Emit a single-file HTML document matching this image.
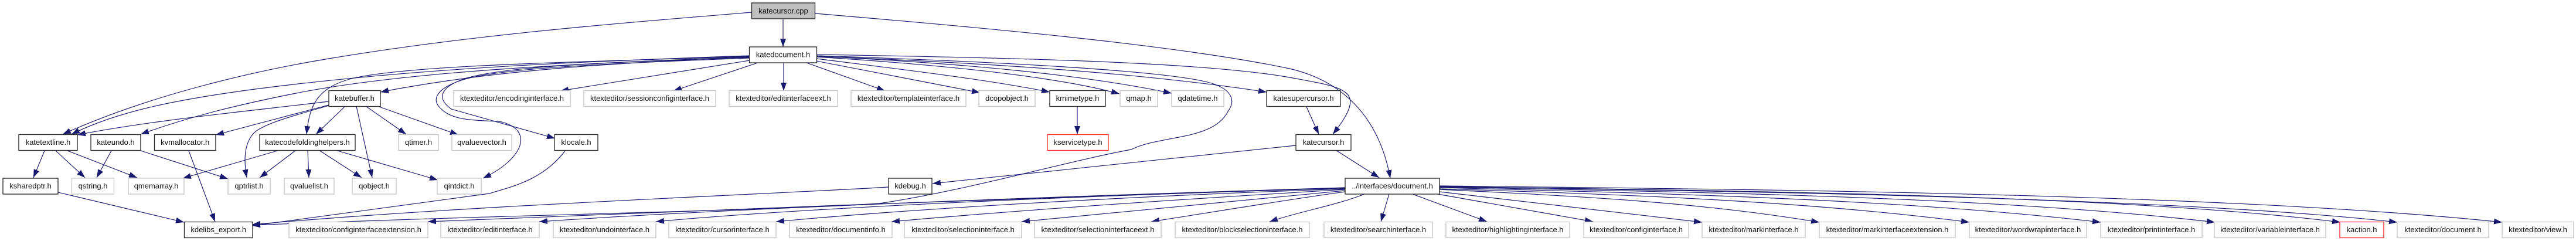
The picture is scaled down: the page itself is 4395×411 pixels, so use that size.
<!DOCTYPE html>
<html><head><meta charset="utf-8"><style>
html,body{margin:0;padding:0;background:#fff;width:4395px;height:411px;overflow:hidden}
svg{display:block}
text{font-family:"Liberation Sans",sans-serif;font-size:13px;fill:#111;text-anchor:middle}
.e path{fill:none;stroke:#191970;stroke-width:1.15;marker-end:url(#a)}
rect{fill:#fff;stroke-width:1.3}
.b rect{stroke:#222}
.g rect{stroke:#c4c4c4}
.r rect{stroke:#f22}
</style></head><body>
<svg width="4395" height="411" viewBox="0 0 4395 411" xmlns="http://www.w3.org/2000/svg">
<defs><marker id="a" markerUnits="userSpaceOnUse" markerWidth="15" markerHeight="11" refX="14" refY="5" orient="auto"><path d="M0 0L14 5L0 10Z" fill="#191970"/></marker></defs>
<g class="e">
<path d="M1336 33L1336 80"/>
<path d="M1282 21C1050 40 800 60 561 100C440 120 260 160 107 229"/>
<path d="M1278 95C1000 105 720 115 435 152C300 170 200 190 122 229"/>
<path d="M1278 97C1000 108 700 120 500 160C400 180 320 200 240 229"/>
<path d="M561 173C420 190 260 205 132 230"/>
<path d="M561 179L368 230"/>
<path d="M561 180C510 195 450 210 433 227C418 243 415 270 421 303"/>
<path d="M1278 96C1000 106 700 110 600 134C540 150 528 180 523 229"/>
<path d="M1278 98C1050 106 860 112 790 135C750 150 745 168 770 186L947 236"/>
<path d="M1278 99C1050 108 860 115 790 136C745 150 735 170 752 185C775 210 830 204 856 208C910 222 895 270 824 304"/>
<path d="M1279 103L956 155"/>
<path d="M1278 97C1050 108 850 118 649 157"/>
<path d="M1293 107L1149 155"/>
<path d="M1337 107L1337 155"/>
<path d="M1376 107L1510 155"/>
<path d="M1393 104L1672 158"/>
<path d="M1393 100C1550 120 1680 135 1791 157"/>
<path d="M1393 97C1600 110 1800 130 1910 160"/>
<path d="M1393 96C1650 108 1850 128 1999 159"/>
<path d="M1393 96C1700 108 1950 125 2161 157"/>
<path d="M1393 95C1700 105 1980 120 2060 140C2100 150 2110 170 2095 190C2070 240 1980 230 1930 255C1820 275 1650 325 1500 347C1300 360 900 365 430 384"/>
<path d="M1393 93C1700 98 2050 105 2200 132C2270 145 2310 150 2303 180C2300 195 2285 215 2274 229"/>
<path d="M1391 23C1650 45 2000 75 2200 117C2300 140 2355 210 2372 304"/>
<path d="M2229 182L2250 229"/>
<path d="M2279 256L2353 303"/>
<path d="M2211 248L1591 313"/>
<path d="M1516 319C1300 332 800 350 430 383"/>
<path d="M965 256C925 310 865 320 835 330L430 385"/>
<path d="M99 328L314 379"/>
<path d="M322 257L367 378"/>
<path d="M76 257L57 303"/>
<path d="M95 257L145 303"/>
<path d="M115 257L234 303"/>
<path d="M190 257L165 303"/>
<path d="M240 257L389 305"/>
<path d="M477 256L312 304"/>
<path d="M505 256L443 303"/>
<path d="M525 256L527 303"/>
<path d="M544 256L617 303"/>
<path d="M572 256L747 307"/>
<path d="M589 181L539 229"/>
<path d="M608 181L635 303"/>
<path d="M624 181L693 229"/>
<path d="M644 181L782 230"/>
<path d="M1838 182L1838 229"/>
<path d="M2295 320C1900 332 1200 358 730 378"/>
<path d="M2295 320C1900 332 1300 352 920 378"/>
<path d="M2295 321C1900 332 1400 352 1119 378"/>
<path d="M2295 322C2000 332 1600 352 1324 378"/>
<path d="M2295 323C2100 335 1800 353 1521 378"/>
<path d="M2295 325C2150 340 1950 357 1743 378"/>
<path d="M2295 327C2200 340 2080 360 1964 378"/>
<path d="M2328 331C2280 350 2220 360 2166 378"/>
<path d="M2370 331L2356 378"/>
<path d="M2410 331L2537 378"/>
<path d="M2453 331L2718 378"/>
<path d="M2456 327L2904 379"/>
<path d="M2456 323C2700 335 2900 345 3104 379"/>
<path d="M2456 322C2800 332 3100 345 3360 379"/>
<path d="M2456 320C2850 330 3250 340 3584 379"/>
<path d="M2456 319C2900 328 3400 335 3779 379"/>
<path d="M2456 318C2900 325 3600 330 3993 379"/>
<path d="M2456 318C2900 326 3700 335 4090 379"/>
<path d="M2456 317C3000 323 3800 330 4269 379"/>
</g>
<g class="b">
<rect x="1282.5" y="5" width="108" height="27" style="fill:#bfbfbf"/><text x="1336.5" y="23">katecursor.cpp</text>
<rect x="1278.5" y="80" width="115" height="27"/><text x="1336" y="97.500">katedocument.h</text>
<rect x="561" y="154.500" width="88" height="27"/><text x="605" y="172">katebuffer.h</text>
<rect x="2161" y="154.500" width="126" height="27"/><text x="2224" y="172">katesupercursor.h</text>
<rect x="1791" y="154.500" width="95" height="27"/><text x="1838.500" y="172">kmimetype.h</text>
<rect x="32" y="229.500" width="100" height="27"/><text x="82" y="247">katetextline.h</text>
<rect x="155" y="229.500" width="85" height="27"/><text x="197.500" y="247">kateundo.h</text>
<rect x="263.500" y="229.500" width="104.500" height="27"/><text x="315.700" y="247">kvmallocator.h</text>
<rect x="443" y="229.500" width="163" height="27"/><text x="524.500" y="247">katecodefoldinghelpers.h</text>
<rect x="946" y="229.500" width="74" height="27"/><text x="983" y="247">klocale.h</text>
<rect x="2211" y="229.500" width="94" height="27"/><text x="2258" y="247">katecursor.h</text>
<rect x="5" y="304" width="94" height="27"/><text x="52" y="321.500">ksharedptr.h</text>
<rect x="1516" y="304" width="74" height="27"/><text x="1553" y="321.500">kdebug.h</text>
<rect x="2295" y="304" width="161" height="27"/><text x="2375.500" y="321.500">../interfaces/document.h</text>
<rect x="314.500" y="378.500" width="116.500" height="27"/><text x="372.700" y="396">kdelibs_export.h</text>
</g>
<g class="r">
<rect x="1787" y="229.500" width="104" height="27"/><text x="1839" y="247">kservicetype.h</text>
<rect x="3992" y="378.500" width="75" height="27"/><text x="4029.500" y="396">kaction.h</text>
</g>
<g class="g">
<rect x="774" y="154.500" width="199" height="27"/><text x="873.500" y="172">ktexteditor/encodinginterface.h</text>
<rect x="996" y="154.500" width="225" height="27"/><text x="1108.500" y="172">ktexteditor/sessionconfiginterface.h</text>
<rect x="1244" y="154.500" width="185" height="27"/><text x="1336.500" y="172">ktexteditor/editinterfaceext.h</text>
<rect x="1452" y="154.500" width="196" height="27"/><text x="1550" y="172">ktexteditor/templateinterface.h</text>
<rect x="1670" y="154.500" width="96" height="27"/><text x="1718" y="172">dcopobject.h</text>
<rect x="1911" y="154.500" width="64" height="27"/><text x="1943" y="172">qmap.h</text>
<rect x="1999" y="154.500" width="89" height="27"/><text x="2043.500" y="172">qdatetime.h</text>
<rect x="680" y="229.500" width="68" height="27"/><text x="714" y="247">qtimer.h</text>
<rect x="771" y="229.500" width="102" height="27"/><text x="822" y="247">qvaluevector.h</text>
<rect x="122.500" y="304" width="72" height="27"/><text x="158.500" y="321.500">qstring.h</text>
<rect x="219" y="304" width="95" height="27"/><text x="266.500" y="321.500">qmemarray.h</text>
<rect x="389" y="304" width="72" height="27"/><text x="425" y="321.500">qptrlist.h</text>
<rect x="485" y="304" width="85" height="27"/><text x="527.500" y="321.500">qvaluelist.h</text>
<rect x="601" y="304" width="75" height="27"/><text x="638.500" y="321.500">qobject.h</text>
<rect x="746" y="304" width="75" height="27"/><text x="783.500" y="321.500">qintdict.h</text>
<rect x="493" y="378.500" width="237" height="27"/><text x="611.500" y="396">ktexteditor/configinterfaceextension.h</text>
<rect x="752" y="378.500" width="168" height="27"/><text x="836" y="396">ktexteditor/editinterface.h</text>
<rect x="944" y="378.500" width="175" height="27"/><text x="1031.500" y="396">ktexteditor/undointerface.h</text>
<rect x="1141" y="378.500" width="183" height="27"/><text x="1232.500" y="396">ktexteditor/cursorinterface.h</text>
<rect x="1347" y="378.500" width="175" height="27"/><text x="1434.500" y="396">ktexteditor/documentinfo.h</text>
<rect x="1543" y="378.500" width="200" height="27"/><text x="1643" y="396">ktexteditor/selectioninterface.h</text>
<rect x="1765" y="378.500" width="216" height="27"/><text x="1873" y="396">ktexteditor/selectioninterfaceext.h</text>
<rect x="2005" y="378.500" width="229" height="27"/><text x="2119.500" y="396">ktexteditor/blockselectioninterface.h</text>
<rect x="2259" y="378.500" width="185" height="27"/><text x="2351.500" y="396">ktexteditor/searchinterface.h</text>
<rect x="2467" y="378.500" width="211" height="27"/><text x="2572.500" y="396">ktexteditor/highlightinginterface.h</text>
<rect x="2702" y="378.500" width="179" height="27"/><text x="2791.500" y="396">ktexteditor/configinterface.h</text>
<rect x="2904" y="378.500" width="176" height="27"/><text x="2992" y="396">ktexteditor/markinterface.h</text>
<rect x="3104" y="378.500" width="232" height="27"/><text x="3220" y="396">ktexteditor/markinterfaceextension.h</text>
<rect x="3360" y="378.500" width="200" height="27"/><text x="3460" y="396">ktexteditor/wordwrapinterface.h</text>
<rect x="3584" y="378.500" width="173" height="27"/><text x="3670.500" y="396">ktexteditor/printinterface.h</text>
<rect x="3778" y="378.500" width="190" height="27"/><text x="3873" y="396">ktexteditor/variableinterface.h</text>
<rect x="4090" y="378.500" width="156" height="27"/><text x="4168" y="396">ktexteditor/document.h</text>
<rect x="4269" y="378.500" width="122" height="27"/><text x="4330" y="396">ktexteditor/view.h</text>
</g>
</svg>
</body></html>
